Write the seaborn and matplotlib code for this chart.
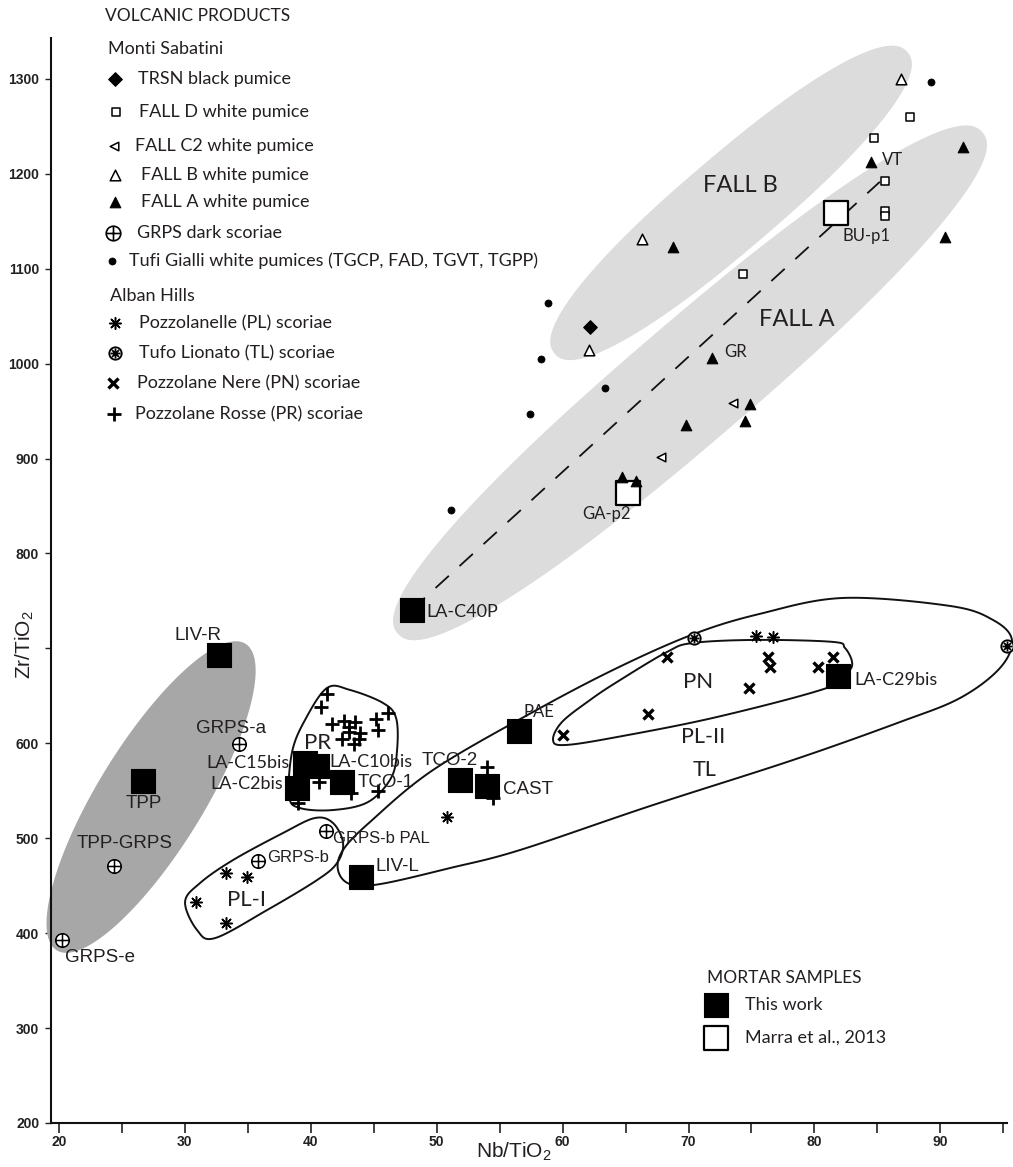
import numpy as np
import matplotlib
matplotlib.use("Agg")
import matplotlib.pyplot as plt
import seaborn as sns
from matplotlib.path import Path
from matplotlib.patches import Polygon

# ---------------- data (Nb/TiO2 , Zr/TiO2) ----------------
trsn_x = [62.2]
trsn_y = [1039]
falld_x = [87.6, 84.7, 85.6, 85.6, 85.6, 74.3]
falld_y = [1260, 1238, 1192, 1161, 1155, 1094]
fallc2_x = [73.5, 67.8]
fallc2_y = [958, 902]
fallb_x = [86.9, 66.3, 62.1]
fallb_y = [1300, 1131, 1014]
falla_x = [91.8, 84.5, 90.4, 68.8, 71.9, 74.9, 74.5, 69.8, 64.7, 65.8]
falla_y = [1228, 1212, 1133, 1123, 1006, 957, 940, 935, 881, 876]
grps_x = [34.3, 24.4, 20.2, 35.8, 41.2]
grps_y = [599, 471, 393, 476, 508]
tufi_x = [89.3, 58.8, 58.3, 63.4, 57.4, 51.1]
tufi_y = [1297, 1064, 1005, 974, 947, 846]
pl_x = [75.4, 76.7, 33.3, 34.9, 30.9, 33.3, 50.8]
pl_y = [713, 712, 463, 459, 433, 411, 522]
tl_x = [70.4, 95.3]
tl_y = [711, 703]
pn_x = [68.3, 76.3, 76.5, 80.3, 81.5, 74.8, 66.8, 60.0]
pn_y = [691, 691, 680, 680, 691, 658, 631, 609]
pr_x = [41.3, 40.8, 41.7, 42.6, 43.5, 43.0, 43.9, 45.2, 46.1, 45.3, 42.5, 43.4,
        40.65, 43.2, 45.3, 54.0, 54.5, 39.0, 43.0, 43.8]
pr_y = [652, 638, 620, 624, 622, 612, 611, 626, 632, 614, 605, 599,
        559, 548, 550, 575, 542, 537, 617, 605]
mortar_names = ['LA-C40P', 'LIV-R', 'TPP', 'LA-C15bis', 'LA-C10bis', 'LA-C2bis',
                'TCO-1', 'TCO-2', 'CAST', 'PAE', 'LIV-L', 'LA-C29bis']
mortar_x = [48.0, 32.7, 26.7, 39.5, 40.5, 38.9, 42.5, 51.85, 54.0, 56.5, 44.0, 81.9]
mortar_y = [740, 693, 560, 579, 576, 553, 559, 561, 555, 613, 459, 671]
marra_names = ['BU-p1', 'GA-p2']
marra_x = [81.7, 65.2]
marra_y = [1159, 864]

# envelope outlines (data units)
pr_env_x = [41.29, 43.11, 45.73, 46.77, 46.85, 46.37, 44.54, 41.76, 39.14, 38.27, 38.51, 39.54]
pr_env_y = [658.3, 656.2, 642.5, 626.7, 592.9, 563.4, 538.1, 529.7, 531.8, 544.5, 590.8, 624.6]
pl1_env_x = [30.01, 30.96, 32.39, 36.52, 40.49, 42.08, 42.56, 41.76, 40.33, 37.79, 33.82, 31.2]
pl1_env_y = [432.8, 403.3, 394.8, 424.3, 455.9, 473.9, 494.9, 516.0, 521.3, 505.5, 477.0, 452.8]
pl2_env_x = [42.56, 44.70, 49.71, 57.65, 64.32, 70.44, 75.68, 82.27, 90.77, 94.19, 95.69,
             94.74, 91.57, 86.80, 78.30, 66.94, 56.62, 51.06, 45.50, 43.11, 42.16]
pl2_env_y = [487.6, 517.1, 571.9, 633.0, 679.3, 715.2, 736.4, 753.1, 744.7, 729.9, 708.9,
             679.3, 647.7, 622.4, 582.4, 533.9, 487.6, 468.6, 451.7, 451.7, 466.5]
pn_env_x = [59.24, 59.95, 62.18, 64.32, 68.29, 70.36, 75.44, 81.48, 82.43, 82.99, 82.67,
            81.0, 72.26, 64.32, 60.19]
pn_env_y = [603.5, 622.4, 645.6, 664.6, 696.2, 705.7, 708.9, 706.8, 700.4, 685.7, 675.1,
            658.3, 627.7, 606.6, 598.2]

# ---------------- style ----------------
sns.set_style("ticks")
plt.rcParams['font.family'] = ['Liberation Sans', 'DejaVu Sans']
plt.rcParams['mathtext.fontset'] = 'custom'
plt.rcParams['mathtext.rm'] = 'Liberation Sans'
plt.rcParams['mathtext.it'] = 'Liberation Sans:italic'
MYR = ['Lato', 'DejaVu Sans']
ARI = ['Liberation Sans', 'DejaVu Sans']
TXT = '#231f20'

W, H = 1013, 1167
fig = plt.figure(figsize=(W / 100, H / 100), dpi=100)
ax = fig.add_axes([51 / W, 1 - 1123 / H, 956 / W, 1085 / H])
XLIM = (19.36, 95.3)
YLIM = (200, 1343)
ax.set_xlim(*XLIM)
ax.set_ylim(*YLIM)


def blob(cx, cy, a, b, ang, n=2.0, **kw):
    c = ax.transData.transform((cx, cy))
    t = np.linspace(0, 2 * np.pi, 500)
    ct, st = np.cos(t), np.sin(t)
    xe = a * np.sign(ct) * np.abs(ct) ** (2 / n)
    ye = b * np.sign(st) * np.abs(st) ** (2 / n)
    r = np.deg2rad(ang)
    xs = c[0] + xe * np.cos(r) - ye * np.sin(r)
    ys = c[1] + xe * np.sin(r) + ye * np.cos(r)
    d = ax.transData.inverted().transform(np.column_stack([xs, ys]))
    ax.add_patch(Polygon(d, closed=True, clip_on=False, **kw))


def smooth_closed(px, py, n=24, **kw):
    P = ax.transData.transform(np.column_stack([px, py]))
    N = len(P)
    out = []
    for i in range(N):
        p0, p1, p2, p3 = P[i - 1], P[i], P[(i + 1) % N], P[(i + 2) % N]
        for t in np.linspace(0, 1, n, endpoint=False):
            out.append(0.5 * (2 * p1 + (-p0 + p2) * t + (2 * p0 - 5 * p1 + 4 * p2 - p3) * t * t
                              + (-p0 + 3 * p1 - 3 * p2 + p3) * t ** 3))
    d = ax.transData.inverted().transform(np.array(out))
    ax.add_patch(Polygon(d, closed=True, fill=False, clip_on=False, **kw))


# grey fields
blob(73.38, 1169.3, 232, 47, 40.5, n=2.3, facecolor='#dcdcdc', edgecolor='none', zorder=1)
blob(70.12, 979.7, 385, 60, 40.6, n=2.3, facecolor='#dcdcdc', edgecolor='none', zorder=1)
blob(27.31, 543.4, 180, 53, 58.4, n=2.0, facecolor='#a7a7a7', edgecolor='none', zorder=1)

# outlines
for ex, ey in [(pr_env_x, pr_env_y), (pl1_env_x, pl1_env_y),
               (pl2_env_x, pl2_env_y), (pn_env_x, pn_env_y)]:
    smooth_closed(ex, ey, edgecolor='#111111', linewidth=1.4, zorder=2)

# dashed trend line
ax.plot([48.0, 85.2], [740.5, 1191.5], color='#111111', lw=1.3,
        linestyle=(0, (10, 8)), zorder=3)

# custom markers
circ = Path.unit_circle()
oplus = Path.make_compound_path(
    circ,
    Path([[-1, 0], [1, 0]], [Path.MOVETO, Path.LINETO]),
    Path([[0, -1], [0, 1]], [Path.MOVETO, Path.LINETO]))
spk = []
for a in np.deg2rad([0, 45, 90, 135]):
    spk.append(Path([[0.8 * np.cos(a), 0.8 * np.sin(a)], [-0.8 * np.cos(a), -0.8 * np.sin(a)]],
                    [Path.MOVETO, Path.LINETO]))
wheel = Path.make_compound_path(circ, *spk)
aster = (8, 2, 0)


def pts(x, y, marker, s, fc, ec='k', lw=1.2, z=5):
    kw = dict(x=x, y=y, marker=marker, s=s, linewidth=lw, ax=ax, legend=False,
              zorder=z, clip_on=False)
    if ec is None:
        sns.scatterplot(color=fc, **kw)
    else:
        sns.scatterplot(facecolor=fc, edgecolor=ec, **kw)


pts(tufi_x, tufi_y, 'o', 26, 'k', 'k', 0.5)
pts(trsn_x, trsn_y, 'D', 48, 'k', 'k', 0.8)
pts(falld_x, falld_y, 's', 34, 'white', 'k', 1.1)
pts(fallc2_x, fallc2_y, '<', 38, 'white', 'k', 1.1)
pts(fallb_x, fallb_y, '^', 58, 'white', 'k', 1.1)
pts(grps_x, grps_y, oplus, 95, 'white', 'k', 1.1)
pts(pl_x, pl_y, aster, 70, 'k', None, 1.1)
pts(tl_x, tl_y, wheel, 80, 'white', 'k', 1.3)
pts(pn_x, pn_y, 'x', 52, 'k', None, 2.4)
pts(pr_x, pr_y, '+', 95, 'k', None, 2.0)
pts(mortar_x, mortar_y, 's', 275, 'k', 'k', 0.8, z=6)
pts(marra_x, marra_y, 's', 290, 'white', 'k', 1.6, z=6)
pts(falla_x, falla_y, '^', 58, 'k', 'k', 0.8, z=7)


def lab(x, y, s, size=13, ha='left', va='center', fam=MYR):
    ax.text(x, y, s, fontsize=size, ha=ha, va=va, family=fam, color=TXT, zorder=9)


# sample labels
lab(31.0, 714, 'LIV-R', 13.5, 'center', fam=ARI)
lab(26.7, 537, 'TPP', 13.5, 'center', fam=ARI)
lab(33.7, 616, 'GRPS-a', 13.5, 'center', fam=ARI)
lab(25.2, 494, 'TPP-GRPS', 13.5, 'center', fam=ARI)
lab(20.5, 374, 'GRPS-e', 13.5, fam=ARI)
lab(36.5, 480, 'GRPS-b', 12, fam=ARI)
lab(41.8, 500, 'GRPS-b PAL', 12, fam=ARI)
lab(45.1, 470, 'LIV-L', 13.5, fam=ARI)
lab(43.7, 559, 'TCO-1', 13.5, fam=ARI)
lab(48.8, 582, 'TCO-2', 13.5, fam=ARI)
lab(55.3, 551, 'CAST', 13.5, fam=ARI)
lab(38.3, 579, 'LA-C15bis', 13, 'right')
lab(37.8, 557, 'LA-C2bis', 13, 'right')
lab(41.5, 580, 'LA-C10bis', 13)
lab(49.2, 738, 'LA-C40P', 13)
lab(56.9, 633, 'PAE', 12)
lab(83.2, 667, 'LA-C29bis', 13)
lab(63.5, 842, 'GA-p2', 12, 'center')
lab(82.2, 1134, 'BU-p1', 12)
lab(85.4, 1214, 'VT', 12)
lab(72.8, 1012, 'GR', 12)

# field labels
lab(74.1, 1188, 'FALL B', 17, 'center')
lab(78.6, 1046, 'FALL A', 17, 'center')
lab(40.5, 600, 'PR', 16, 'center')
lab(34.9, 435, 'PL-I', 16, 'center')
lab(70.75, 665, 'PN', 16, 'center')
lab(71.2, 607, 'PL-II', 15.5, 'center')
lab(71.3, 572, 'TL', 15.5, 'center')

# axes styling
ax.set_xticks(np.arange(20, 91, 10))
ax.set_xticks(np.arange(25, 96, 10), minor=True)
ax.set_yticks(np.arange(200, 1301, 100))
ax.set_yticklabels([str(v) if v != 700 else '' for v in range(200, 1301, 100)])
ax.tick_params(axis='x', which='both', direction='out', length=7, width=1.2, pad=2,
               labelsize=10, colors='#222222')
ax.tick_params(axis='y', direction='out', length=4.5, width=1.0, pad=4,
               labelsize=10, colors='#222222')
for t in ax.get_xticklabels() + ax.get_yticklabels():
    t.set_fontweight('bold')
    t.set_family(ARI)
for sp in ['top', 'right']:
    ax.spines[sp].set_visible(False)
for sp in ['left', 'bottom']:
    ax.spines[sp].set_linewidth(1.5)
    ax.spines[sp].set_color('#111111')
ax.grid(False)
ax.set_xlabel('')
ax.set_ylabel('')
fig.text(514 / W, 1 - 1158 / H, r'Nb/TiO$_2$', fontsize=15, ha='center', va='baseline',
         color=TXT, family=ARI)
fig.text(25 / W, 1 - 645 / H, r'Zr/TiO$_2$', fontsize=15, ha='center', va='center',
         rotation=90, color=TXT, family=ARI)


# ---------------- legends ----------------
def F(px, py):
    return (px / W, 1 - py / H)


def leg_marker(px, py, marker, s, fc, ec, lw):
    fx, fy = F(px, py)
    if ec is None:
        ax.scatter([fx], [fy], transform=fig.transFigure, marker=marker, s=s, color=fc,
                   linewidths=lw, clip_on=False, zorder=10)
    else:
        ax.scatter([fx], [fy], transform=fig.transFigure, marker=marker, s=s, facecolors=fc,
                   edgecolors=ec, linewidths=lw, clip_on=False, zorder=10)


def leg_text(px, py, s, size=13):
    fx, fy = F(px, py)
    fig.text(fx, fy, s, fontsize=size, ha='left', va='center', family=MYR, color=TXT)


leg_text(105, 16, 'VOLCANIC PRODUCTS', 12.5)
leg_text(108, 49, 'Monti Sabatini', 13)
rows = [
    (79, 115, 'D', 48, 'k', 'k', 0.8, 138, 'TRSN black pumice'),
    (112, 116, 's', 34, 'white', 'k', 1.1, 139, 'FALL D white pumice'),
    (146, 114, '<', 38, 'white', 'k', 1.1, 135, 'FALL C2 white pumice'),
    (175, 115, '^', 58, 'white', 'k', 1.1, 141, 'FALL B white pumice'),
    (202, 115, '^', 58, 'k', 'k', 0.8, 141, 'FALL A white pumice'),
    (233, 113, oplus, 110, 'white', 'k', 1.2, 137, 'GRPS dark scoriae'),
    (261, 112, 'o', 26, 'k', 'k', 0.5, 129, 'Tufi Gialli white pumices (TGCP, FAD, TGVT, TGPP)'),
    (323, 115, aster, 70, 'k', None, 1.1, 139, 'Pozzolanelle (PL) scoriae'),
    (353, 115, wheel, 80, 'white', 'k', 1.3, 139, 'Tufo Lionato (TL) scoriae'),
    (383, 113, 'x', 52, 'k', None, 2.4, 137, 'Pozzolane Nere (PN) scoriae'),
    (414, 114, '+', 95, 'k', None, 2.0, 135, 'Pozzolane Rosse (PR) scoriae'),
]
for (py, mx, mk, s, fc, ec, lw, tx, txt) in rows:
    leg_marker(mx, py, mk, s, fc, ec, lw)
    leg_text(tx, py, txt)
leg_text(110, 296, 'Alban Hills', 13)

leg_text(707, 978, 'MORTAR SAMPLES', 12.5)
leg_marker(716, 1005, 's', 275, 'k', 'k', 0.8)
leg_text(745, 1005, 'This work')
leg_marker(716, 1038, 's', 290, 'white', 'k', 1.6)
leg_text(745, 1038, 'Marra et al., 2013')

ax.set_xlim(*XLIM)
ax.set_ylim(*YLIM)
fig.savefig('out.png', dpi=100)
